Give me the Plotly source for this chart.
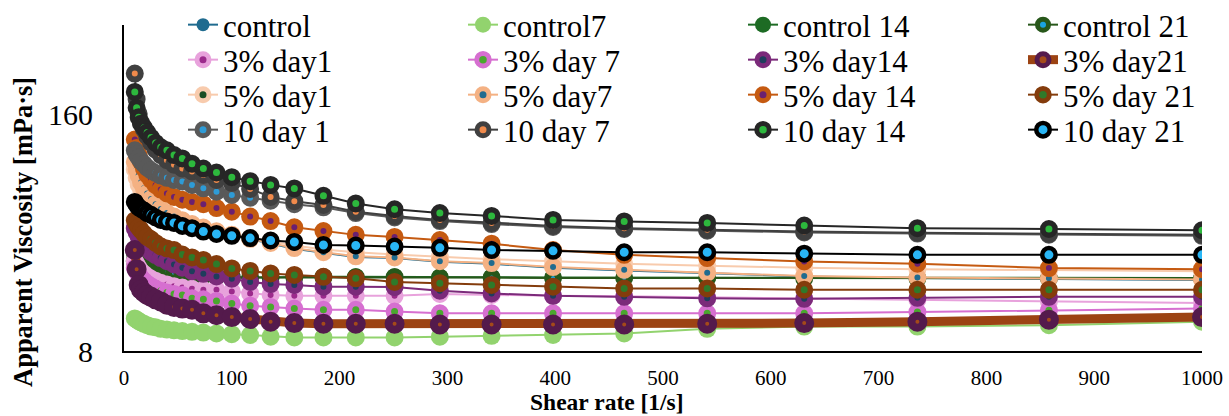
import plotly.graph_objects as go

# ---------------- data ----------------
shear_rate = [10, 11.7, 13.6, 15.8, 18.5, 21.5, 25.1, 29.3, 34.1, 39.8, 46.4, 54.1, 63.1, 73.6, 85.8,
              100, 117, 136, 158, 185, 215, 251, 293, 341, 398, 464, 541, 631, 736, 858, 1000]

control = [87, 79, 73, 67, 62.5, 58.5, 54.5, 51, 48, 45.5, 43.5, 41.5, 39.6, 38, 36.2, 34.7, 33, 31.3,
           29.3, 27.8, 26.4, 26.0, 24.8, 24.2, 23.0, 22.2, 21.4, 20.6, 20.2, 20.0, 19.7]
control7 = [12.1, 11.9, 11.7, 11.5, 11.3, 11.1, 10.9, 10.8, 10.6, 10.5, 10.4, 10.3, 10.2, 10.1, 10.0, 9.9,
            9.8, 9.6, 9.5, 9.5, 9.5, 9.5, 9.6, 9.7, 9.8, 10.0, 10.6, 10.9, 10.9, 11.1, 11.6]
control14 = [27, 26.5, 26, 25.5, 25, 24.5, 24, 23.5, 23, 22.5, 22, 21.6, 21.2, 20.9, 20.6, 20.4, 20.3,
             20.4, 20.5, 20.5, 20.5, 20.5, 20.4, 20.4, 20.3, 20.3, 20.2, 20.2, 20.2, 20.2, 20.2]
control21 = [25, 24.5, 24, 23.5, 23, 22.8, 22.5, 22.2, 22, 21.8, 21.5, 21.3, 21.0, 20.8, 20.6, 20.4, 20.3,
             20.3, 20.4, 20.4, 20.4, 20.4, 20.3, 20.3, 20.2, 20.2, 20.2, 20.1, 20.1, 20.1, 20.1]
p3_day1 = [25, 24, 23, 22, 21.3, 20.6, 20, 19.5, 19, 18.6, 18.2, 17.9, 17.6, 17.4, 17.4, 17.0, 16.6, 16.3,
           16.1, 16.1, 16.1, 16.1, 16.5, 16.3, 16.1, 16.0, 15.8, 15.6, 15.3, 15.0, 14.7]
p3_day7 = [23, 22, 21, 20.2, 19.5, 18.8, 18.2, 17.6, 17.2, 16.8, 16.5, 16.3, 15.6, 15.4, 15.1, 14.6, 14.2,
           14.0, 13.7, 13.5, 13.5, 13.2, 12.9, 12.9, 12.9, 12.9, 12.9, 12.9, 13.1, 13.4, 13.7]
p3_day14 = [38, 36, 34, 32.5, 31, 29.5, 28, 27, 26, 25, 24, 23, 22, 21.3, 20.6, 20, 19.2, 18.7, 18.5,
            18.1, 18.1, 18.0, 17.2, 16.6, 16.1, 15.9, 15.6, 15.5, 15.7, 15.9, 15.9]
p3_day21 = [28.8, 22.6, 18.5, 17.4, 16.8, 16.3, 15.9, 15.4, 15.0, 14.4, 14.0, 13.7, 13.5, 12.9, 12.6, 12.3,
            12.0, 11.6, 11.4, 11.3, 11.3, 11.3, 11.2, 11.2, 11.2, 11.2, 11.3, 11.4, 11.6, 11.9, 12.3]
p5_day1 = [80, 72, 66, 62, 58, 55, 52, 49, 46.5, 44, 42, 40.5, 39, 37.5, 36, 34.8, 33.5, 32.3, 30.5, 29,
           28, 27.2, 26.4, 25.6, 25, 24.2, 23.6, 23, 22.6, 22.3, 22]
p5_day7 = [88, 80, 74, 68, 63, 59, 55, 51.5, 48.5, 46, 44, 42, 40, 38.3, 36.5, 35, 33.2, 31.5, 29.5, 28,
           26.6, 26.2, 25.0, 24.4, 23.2, 22.4, 21.6, 20.7, 20.3, 20.1, 19.8]
p5_day14 = [117, 105, 96, 88, 81, 75, 70, 65.5, 62, 59, 56.5, 54.5, 53, 51.5, 49, 46.8, 44, 41.6, 38.4,
            36.6, 34.9, 34.0, 32.7, 31.2, 28.8, 27.1, 26.0, 24.9, 24.2, 22.9, 22.6]
p5_day21 = [42, 40, 38.5, 37, 35.5, 34, 33, 31.5, 30.2, 29.4, 28.8, 27.2, 26.2, 25.4, 24.1, 22.8, 22.1,
            21.4, 21, 20.5, 20.1, 19.2, 18.9, 18.5, 18.1, 17.7, 17.7, 17.4, 17.4, 17.4, 17.4]
p10_day1 = [102, 97, 93, 89, 85.5, 82, 79, 76.5, 74, 72, 70, 68.6, 65.8, 63, 60.4, 57.9, 55.9, 53.8, 51.5,
            49.5, 46, 43.5, 41.6, 40, 38.6, 37.6, 36.8, 36.0, 35.5, 35.0, 34.5]
p10_day7 = [270, 195, 162, 145, 133, 122, 112, 103, 96, 90, 85, 81, 78, 74.7, 70, 67.5, 62.5, 56.5, 53.5,
            51, 46.8, 44.3, 42.2, 40.6, 39.1, 38, 37.2, 36.4, 35.9, 35.3, 34.9]
p10_day14 = [214, 175, 155, 143, 136, 128, 120, 112, 106, 102, 96, 92, 86, 81, 77, 72.5, 69, 65.8, 62.9,
             57.3, 52, 48.3, 46, 44.4, 42.2, 41.4, 40.6, 39.3, 38, 37.6, 37]
p10_day21 = [53, 51, 49.5, 48.5, 47.5, 46, 45, 43.5, 42.2, 41.3, 40.6, 39.1, 38, 36.4, 35.3, 34.5, 33.5,
             32.5, 31.9, 30.7, 30.5, 30.1, 29.6, 28.8, 28.5, 28.0, 28.0, 27.5, 27.1, 27.1, 27.1]

series_names = ["control", "control7", "control 14", "control 21",
                "3% day1", "3% day 7", "3% day14", "3% day21",
                "5% day1", "5% day7", "5% day 14", "5% day 21",
                "10 day 1", "10 day 7", "10 day 14", "10 day 21"]
series_values = [control, control7, control14, control21,
                 p3_day1, p3_day7, p3_day14, p3_day21,
                 p5_day1, p5_day7, p5_day14, p5_day21,
                 p10_day1, p10_day7, p10_day14, p10_day21]

# style: (line colour, line width, marker fill, marker size, ring colour, ring width)
styles = [
    ("#1f6b8f", 2, "#1f6b8f", 13, "#1f6b8f", 0),
    ("#92d36e", 2, "#92d36e", 18, "#92d36e", 0),
    ("#1d6b24", 2, "#1d6b24", 17, "#1d6b24", 0),
    ("#27571a", 2, "#1aa3e0", 11, "#27571a", 7),
    ("#e8a2dc", 2, "#9c2a8c", 12, "#e8a2dc", 6),
    ("#d66fd0", 2, "#4aa82e", 12.5, "#d66fd0", 5.5),
    ("#7b2a7a", 2, "#1f3d5c", 12, "#7b2a7a", 6),
    ("#9c4313", 9, "#a44a1a", 12, "#541a4c", 8),
    ("#f8cbad", 2, "#1c4d22", 12, "#f8cbad", 6),
    ("#f4b183", 2, "#1f6b8f", 12, "#f4b183", 6),
    ("#c55a11", 2, "#6b2070", 12, "#c55a11", 6),
    ("#843c0c", 2, "#2f7a2a", 12.5, "#843c0c", 5.5),
    ("#595959", 2, "#2e9bd6", 12, "#595959", 6),
    ("#404040", 2, "#f08a4b", 12, "#404040", 6),
    ("#262626", 2, "#2db83d", 12.5, "#262626", 5.5),
    ("#000000", 2, "#29b6f6", 13.5, "#000000", 4.5),
]

legend_ids = ["legend", "legend2", "legend3", "legend4"]

fig = go.Figure()
for i, (name, vals) in enumerate(zip(series_names, series_values)):
    lc, lw, mc, ms, rc, rw = styles[i]
    row, col = divmod(i, 4)
    fig.add_trace(go.Scatter(
        x=shear_rate, y=vals, name=name, mode="lines+markers",
        line=dict(color=lc, width=lw),
        marker=dict(color=mc, size=ms, line=dict(color=rc, width=rw)),
        legend=legend_ids[row],
        legendwidth=150 if col == 3 else 235,
    ))

serif = "Liberation Serif"
PLOT_TOP, PLOT_BOTTOM, PLOT_LEFT, PLOT_RIGHT = 25, 351, 124, 1202
plot_h = PLOT_BOTTOM - PLOT_TOP
plot_w = PLOT_RIGHT - PLOT_LEFT
row_tops = [-2, 33, 68, 103]
layout_legends = {}
for lid, top in zip(legend_ids, row_tops):
    layout_legends[lid] = dict(
        orientation="h", xref="paper", yref="paper",
        x=(183 - PLOT_LEFT) / plot_w, y=(PLOT_BOTTOM - top) / plot_h,
        xanchor="left", yanchor="top", bgcolor="rgba(0,0,0,0)",
        font=dict(family=serif, size=31, color="#000000"), entrywidth=235)

fig.update_layout(
    width=1229, height=416,
    margin=dict(l=PLOT_LEFT, r=1229 - PLOT_RIGHT, t=PLOT_TOP, b=416 - PLOT_BOTTOM, autoexpand=False),
    paper_bgcolor="white", plot_bgcolor="white",
    showlegend=True,
    font=dict(family=serif, color="#000000"),
    xaxis=dict(range=[0, 1000], tickvals=[0, 100, 200, 300, 400, 500, 600, 700, 800, 900, 1000],
               showgrid=False, zeroline=False, showline=True, linecolor="#000", linewidth=2,
               ticks="", tickfont=dict(family=serif, size=21, color="#000000"),
               ticklabelstandoff=7),
    yaxis=dict(type="log", range=[0.90309, 2.69897], tickvals=[8, 160], ticktext=["8", "160"],
               showgrid=False, zeroline=False, showline=True, linecolor="#000", linewidth=2,
               ticks="", tickfont=dict(family=serif, size=30, color="#000000"),
               ticklabelstandoff=23),
    annotations=[
        dict(text="<b>Apparent Viscosity [mPa·s]</b>", textangle=-90, xref="paper", yref="paper",
             x=(23 - PLOT_LEFT) / plot_w, y=(PLOT_BOTTOM - 232) / plot_h, xanchor="center",
             yanchor="middle", showarrow=False, font=dict(family=serif, size=26.5, color="#000000")),
        dict(text="<b>Shear rate [1/s]</b>", xref="paper", yref="paper",
             x=(607 - PLOT_LEFT) / plot_w, y=(PLOT_BOTTOM - 402) / plot_h, xanchor="center",
             yanchor="middle", showarrow=False, font=dict(family=serif, size=23.5, color="#000000")),
    ],
    **layout_legends,
)

fig.write_html("out.html")
